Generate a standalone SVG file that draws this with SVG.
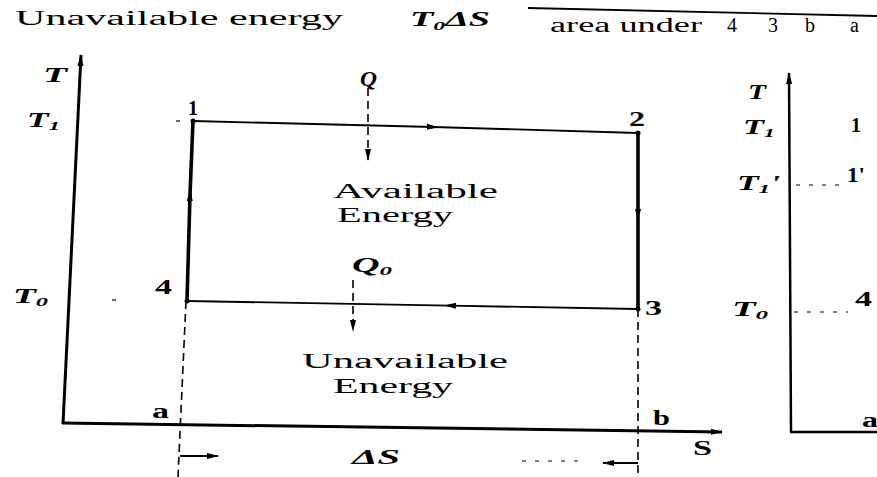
<svg xmlns="http://www.w3.org/2000/svg" width="877" height="477" viewBox="0 0 877 477">
<style>
text{font-family:"Liberation Serif","Times New Roman",serif;fill:#000}
.t{font-size:20px}
.it{font-style:italic;font-weight:bold;font-size:20px}
.num{font-size:20px;font-weight:bold}
.sub{font-size:13px}
.thin{stroke:#000;stroke-width:1.8;fill:none}
.thick{stroke:#000;stroke-width:3.6;fill:none}
.axis{stroke:#000;stroke-width:3;fill:none}
.dash{stroke:#000;stroke-width:1.6;fill:none;stroke-dasharray:8 5}
.dot{stroke:#000;stroke-width:1.2;fill:none;stroke-dasharray:4 9}
</style>
<defs>
<marker id="mid" markerWidth="12" markerHeight="8" refX="6" refY="4" orient="auto" markerUnits="userSpaceOnUse"><path d="M0,1 L12,4 L0,7 z" fill="#000"/></marker>
<marker id="end" markerWidth="12" markerHeight="8" refX="11" refY="4" orient="auto" markerUnits="userSpaceOnUse"><path d="M0,1 L12,4 L0,7 z" fill="#000"/></marker>
</defs>

<g id="title">
<text class="t" x="15" y="25" textLength="328" lengthAdjust="spacingAndGlyphs">Unavailable energy</text>
<text class="it" x="410" y="26" style="font-size:21px" textLength="80" lengthAdjust="spacingAndGlyphs"><tspan>T</tspan><tspan class="sub" dy="4">0</tspan><tspan dy="-4">ΔS</tspan></text>
<text class="t" x="550" y="32" textLength="152" lengthAdjust="spacingAndGlyphs">area under</text>
<text class="t" x="727" y="32">4</text>
<text class="t" x="768" y="32">3</text>
<text class="t" x="805" y="32">b</text>
<text class="t" x="850" y="32">a</text>
<line class="thin" x1="528" y1="8" x2="877" y2="16"/>
</g>

<g id="axes">
<path class="axis" d="M63,424 L81,55" marker-end="url(#end)"/>
<path class="axis" d="M62,423 L722,432" marker-end="url(#end)"/>
<text class="it" x="43" y="82" textLength="24" lengthAdjust="spacingAndGlyphs">T</text>
<text class="it" x="27" y="127" textLength="33" lengthAdjust="spacingAndGlyphs">T<tspan class="sub" dy="3">1</tspan></text>
<text class="it" x="13" y="303" textLength="35" lengthAdjust="spacingAndGlyphs">T<tspan class="sub" dy="3">0</tspan></text>
<text class="num" x="693" y="455" textLength="19" lengthAdjust="spacingAndGlyphs">S</text>
<text class="num" x="152" y="418" textLength="17" lengthAdjust="spacingAndGlyphs">a</text>
<text class="num" x="653" y="425" textLength="17" lengthAdjust="spacingAndGlyphs">b</text>
</g>

<g id="connectors">
<path class="thick" d="M187,301 L190,195 L193,121" marker-mid="url(#mid)"/>
<path class="thin" d="M193,121 L433,127 L638,133" marker-mid="url(#mid)"/>
<path class="thick" d="M638,133 L638,215 L638,309" marker-mid="url(#mid)"/>
<path class="thin" d="M638,309 L450,305.7 L187,301" marker-mid="url(#mid)"/>
<path class="dash" d="M368,88 L368,160" marker-end="url(#end)"/>
<path class="dash" d="M353,280 L353,331" marker-end="url(#end)"/>
<path class="dash" d="M186,301 L178,477"/>
<path class="dash" d="M638,309 L638,477"/>
<path class="thin" d="M180,456 L218,456" marker-end="url(#end)"/>
<path class="thin" d="M638,463 L603,463" marker-end="url(#end)"/>
<path class="dot" d="M522,461 L578,461"/>
<path class="dot" d="M112,300 L124,300"/>
<path class="dot" d="M176,121 L181,121"/>
</g>

<g id="node-1">
<circle cx="193" cy="121" r="2.5"/>
<text class="num" x="193" y="115" text-anchor="middle">1</text>
</g>
<g id="node-2">
<circle cx="638" cy="133" r="2.5"/>
<text class="num" x="629" y="126" textLength="16" lengthAdjust="spacingAndGlyphs">2</text>
</g>
<g id="node-3">
<circle cx="638" cy="309" r="2.5"/>
<text class="num" x="645" y="315" textLength="17" lengthAdjust="spacingAndGlyphs">3</text>
</g>
<g id="node-4">
<circle cx="187" cy="301" r="2.5"/>
<text class="num" x="155" y="294" textLength="17" lengthAdjust="spacingAndGlyphs">4</text>
</g>

<g id="labels">
<text class="it" x="360" y="86" textLength="17" lengthAdjust="spacingAndGlyphs">Q</text>
<text class="it" x="352" y="272" textLength="40" lengthAdjust="spacingAndGlyphs">Q<tspan class="sub" dy="3">0</tspan></text>
<text class="t" x="333" y="198" textLength="165" lengthAdjust="spacingAndGlyphs">Available</text>
<text class="t" x="337" y="222" textLength="116" lengthAdjust="spacingAndGlyphs">Energy</text>
<text class="t" x="302" y="368" textLength="206" lengthAdjust="spacingAndGlyphs">Unavailable</text>
<text class="t" x="333" y="393" textLength="120" lengthAdjust="spacingAndGlyphs">Energy</text>
<text class="it" x="352" y="464" textLength="48" lengthAdjust="spacingAndGlyphs">ΔS</text>
</g>

<g id="right-diagram">
<path class="axis" style="stroke-width:2.5" d="M791,432 L789,73" marker-end="url(#end)"/>
<path class="axis" style="stroke-width:2.5" d="M790,432 L877,432"/>
<path class="dot" d="M796,185 L846,185"/>
<path class="dot" d="M794,312 L848,312"/>
<text class="it" x="748" y="99" textLength="18" lengthAdjust="spacingAndGlyphs">T</text>
<text class="it" x="743" y="134" textLength="32" lengthAdjust="spacingAndGlyphs">T<tspan class="sub" dy="3">1</tspan></text>
<text class="it" x="737" y="190" textLength="43" lengthAdjust="spacingAndGlyphs">T<tspan class="sub" dy="3">1</tspan><tspan dy="-3">'</tspan></text>
<text class="it" x="732" y="316" textLength="36" lengthAdjust="spacingAndGlyphs">T<tspan class="sub" dy="3">0</tspan></text>
<text class="num" x="851" y="132">1</text>
<text class="num" x="847" y="182" textLength="18" lengthAdjust="spacingAndGlyphs">1'</text>
<text class="num" x="855" y="306" textLength="17" lengthAdjust="spacingAndGlyphs">4</text>
<text class="num" x="862" y="427" textLength="16" lengthAdjust="spacingAndGlyphs">a</text>
</g>
</svg>
